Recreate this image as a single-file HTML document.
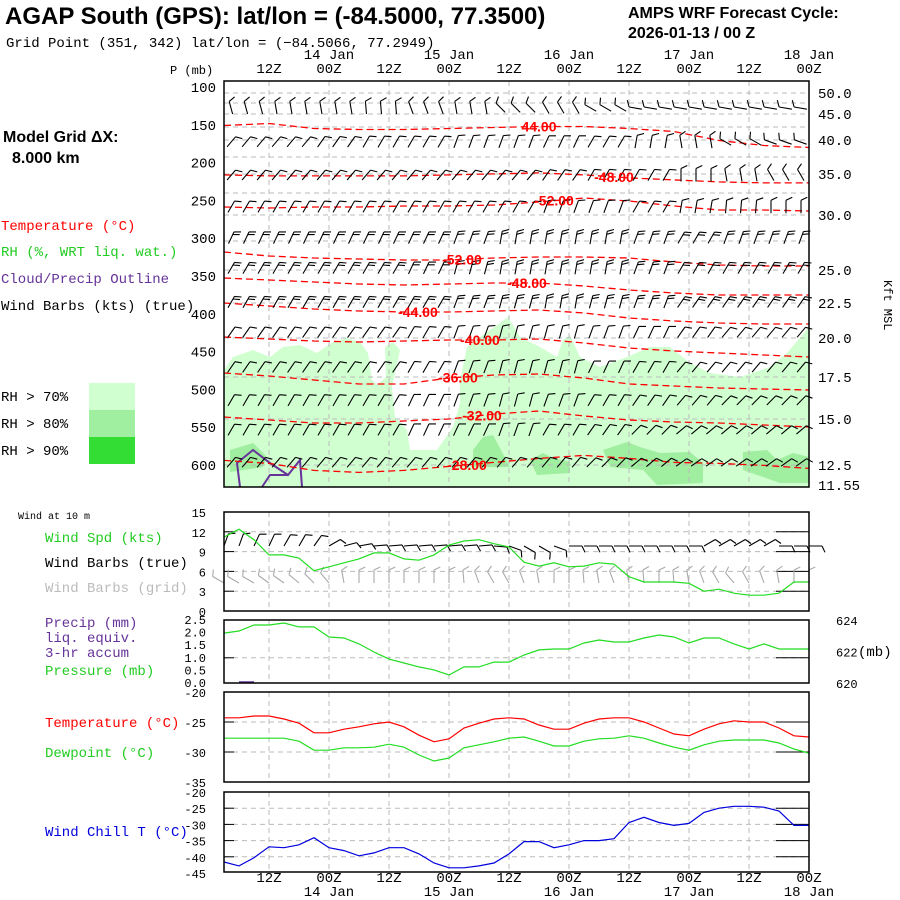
<!DOCTYPE html>
<html><head><meta charset="utf-8"><title>AMPS Meteogram</title>
<style>
html,body{margin:0;padding:0;background:#fff;}
svg{display:block;}
text{font-family:"Liberation Mono","DejaVu Sans Mono",monospace;}
.sans{font-family:"Liberation Sans",sans-serif;}
</style></head>
<body>
<svg id="chart" xmlns="http://www.w3.org/2000/svg" width="900" height="900" viewBox="0 0 900 900">
<rect x="0" y="0" width="900" height="900" fill="#fff"/>
<text class="sans" x="5" y="24" font-size="24" font-weight="bold">AGAP South (GPS):  lat/lon = (-84.5000, 77.3500)</text>
<text x="6" y="47" font-size="14">Grid Point (351, 342) lat/lon = (−84.5066, 77.2949)</text>
<text class="sans" x="628" y="18" font-size="16" font-weight="bold">AMPS WRF Forecast Cycle:</text>
<text class="sans" x="628" y="38" font-size="16" font-weight="bold">2026-01-13 / 00  Z</text>
<text class="sans" x="3" y="142" font-size="16" font-weight="bold">Model Grid ΔX:</text>
<text class="sans" x="12" y="163" font-size="16" font-weight="bold">8.000 km</text>
<text x="1" y="230" font-size="14" fill="#ff0000">Temperature (°C)</text>
<text x="1" y="256" font-size="14" fill="#22cc22">RH (%, WRT liq. wat.)</text>
<text x="1" y="283" font-size="14" fill="#663399">Cloud/Precip Outline</text>
<text x="1" y="310" font-size="14" fill="#000">Wind Barbs (kts) (true)</text>
<text x="1" y="401" font-size="14">RH &gt; 70%</text>
<text x="1" y="428" font-size="14">RH &gt; 80%</text>
<text x="1" y="455" font-size="14">RH &gt; 90%</text>
<rect x="89" y="383" width="46" height="27" fill="#d0ffd0"/>
<rect x="89" y="410" width="46" height="27" fill="#a0eea0"/>
<rect x="89" y="437" width="46" height="27" fill="#33dd33"/>
<text x="170" y="74" font-size="12">P (mb)</text>
<text x="884" y="280" font-size="12" transform="rotate(90 884 280)">Kft MSL</text>
<text x="18" y="519" font-size="10">Wind at 10 m</text>
<text x="45" y="542" font-size="14" fill="#22cc22">Wind Spd (kts)</text>
<text x="45" y="567" font-size="14" fill="#000">Wind Barbs (true)</text>
<text x="45" y="592" font-size="14" fill="#bbbbbb">Wind Barbs (grid)</text>
<text x="45" y="627" font-size="14" fill="#663399">Precip (mm)</text>
<text x="45" y="642" font-size="14" fill="#663399">liq. equiv.</text>
<text x="45" y="657" font-size="14" fill="#663399">3-hr accum</text>
<text x="45" y="675" font-size="14" fill="#22cc22">Pressure (mb)</text>
<text x="858" y="656" font-size="14">(mb)</text>
<text x="45" y="727" font-size="14" fill="#ff0000">Temperature (°C)</text>
<text x="45" y="757" font-size="14" fill="#22cc22">Dewpoint (°C)</text>
<text x="45" y="836" font-size="14" fill="#0000dd">Wind Chill T (°C)</text>
<g id="layer"></g>
</svg>
<script>
// ---------- data ----------
const timeLabels = ["12Z","00Z","12Z","00Z","12Z","00Z","12Z","00Z","12Z","00Z"];
const dateLabels = ["14 Jan","15 Jan","16 Jan","17 Jan","18 Jan"];
const pressureTicks = [100,150,200,250,300,350,400,450,500,550,600];
const heightLabels = ["50.0","45.0","40.0","35.0","30.0","25.0","22.5","20.0","17.5","15.0","12.5","11.55"];
const heightLabelY = [93,114,140,174,215,270,303,338,377,419,465,485];
const windSpd = [11.2,12.4,10.8,8.5,8.5,8.0,6.1,6.7,7.3,7.9,8.8,8.8,7.9,7.7,8.5,10.0,10.6,10.8,10.2,9.7,7.4,6.8,7.3,6.7,6.8,7.3,7.1,5.2,4.4,4.4,4.4,4.2,3.0,3.3,2.7,2.4,2.4,2.7,4.4,4.4];
const windDirTrue = [20,20,25,25,30,30,35,60,75,80,85,85,85,85,85,85,85,85,95,110,120,120,110,90,90,90,90,90,90,90,90,90,60,60,60,60,60,90,90,90];
const windDirGrid = [-60,-60,-60,-55,-55,-50,-45,-40,-10,0,0,0,0,0,0,0,-5,-20,-30,-30,-20,-10,0,0,-5,-10,-20,-10,-5,0,-5,-10,-20,-30,-40,-30,-20,-10,0,0];
const precip = [0,0.03,0,0,0,0,0,0,0,0,0,0,0,0,0,0,0,0,0,0,0,0,0,0,0,0,0,0,0,0,0,0,0,0,0,0,0,0,0,0];
const sfcPres = [623.17,623.30,623.68,623.68,623.81,623.56,623.56,622.92,622.86,622.48,621.97,621.52,621.27,621.02,620.83,620.51,621.02,621.02,621.33,621.33,621.78,622.10,622.16,622.16,622.54,622.73,622.60,622.60,622.86,623.05,622.92,622.54,622.86,622.86,622.48,622.16,622.48,622.16,622.16,622.16];
const tempC = [-24.3,-24.3,-24.0,-24.0,-24.5,-25.2,-26.8,-26.8,-26.2,-25.8,-25.3,-25.0,-25.8,-27.2,-28.3,-27.8,-26.0,-25.2,-24.5,-24.3,-24.5,-25.5,-26.2,-26.2,-25.2,-24.5,-24.3,-24.3,-25.0,-26.0,-27.0,-27.3,-26.2,-25.3,-24.8,-25.0,-25.0,-26.0,-27.3,-27.5];
const dewC = [-27.7,-27.7,-27.7,-27.7,-27.7,-28.2,-29.7,-29.7,-29.3,-29.3,-29.2,-28.7,-29.2,-30.5,-31.5,-31.0,-29.3,-28.8,-28.3,-27.7,-27.5,-28.2,-29.0,-29.0,-28.2,-27.8,-27.7,-27.3,-27.7,-28.5,-29.2,-29.7,-28.8,-28.2,-28.0,-28.0,-28.0,-28.5,-29.5,-30.2];
const windChill = [-41.6,-42.8,-40.3,-36.9,-37.2,-36.3,-34.1,-37.2,-38.1,-39.7,-38.8,-37.2,-37.2,-39.1,-41.9,-43.4,-43.4,-42.8,-41.9,-39.1,-35.3,-35.3,-37.2,-36.3,-35.0,-35.0,-34.4,-29.4,-27.8,-29.4,-30.3,-29.7,-26.3,-25.0,-24.4,-24.4,-24.7,-25.9,-30.3,-30.3];
// upper-air isotherm contours: pressure (mb) at 14 nodes (every 9 h)
const contourLabels = ["44.00","-48.00","-52.00","-52.00","-48.00","-44.00","-40.00","-36.00","-32.00","-28.00"];
const contourLabelHour = [63,78,66,47.6,60.6,38.8,51.2,46.8,51.6,48.6];
const c0 = [150.9,148.3,154.9,156.2,156.2,154.9,153.6,152.2,152.2,154.9,158.9,170.8,177.4,180.0];
const c1 = [216.3,217.6,217.6,217.6,217.6,216.3,215.0,213.6,216.3,220.2,222.9,225.5,226.9,226.9];
const c2 = [258.7,260.1,258.7,258.7,257.4,257.4,256.1,252.1,246.8,250.8,257.4,262.7,262.7,264.0];
const c3 = [318.2,323.5,326.2,327.5,328.8,328.8,326.2,324.9,324.9,326.2,331.5,335.4,336.8,336.8];
const c4 = [352.6,355.3,357.9,360.6,361.9,360.6,359.3,359.3,363.2,368.5,372.5,375.1,375.1,375.1];
const c5 = [385.7,389.7,393.7,396.3,397.6,397.6,396.3,395.0,399.0,405.6,409.5,412.2,413.5,413.5];
const c6 = [430.7,433.3,436.0,437.3,436.0,434.7,434.7,433.3,438.6,445.2,449.2,451.9,454.5,457.1];
const c7 = [478.3,482.3,487.6,492.9,492.9,484.9,480.9,479.6,484.9,492.9,495.5,498.1,499.5,500.8];
const c8 = [536.5,540.5,544.4,544.4,541.8,539.2,532.5,528.6,535.2,540.5,543.1,544.4,547.1,549.7];
const c9 = [593.9,597.9,607.1,609.8,607.1,601.8,596.6,591.3,587.3,591.3,596.6,597.9,600.5,604.5];
// wind barb directions for 12 pressure levels (each value covers 3 barbs)
const barbLevels = [128,173,217,259,300,340,385,425,471,515,554,597];
const barbFeathers = [1,1,1,1,2,2,2,1,1,1,1,1];
const b0 = [-15,-10,-10,-5,-20,-10,-45,-30,-60,-80,-80,-80,-80];
const b1 = [40,40,35,30,30,20,20,25,30,10,-10,-60,-70];
const b2 = [40,40,40,40,40,40,40,35,30,30,0,-10,-30];
const b3 = [30,30,30,30,30,30,30,20,20,30,10,5,0];
const b4 = [25,25,25,25,25,20,10,10,10,20,30,20,20];
const b5 = [30,30,30,30,25,15,10,10,10,20,30,30,30];
const b6 = [30,30,30,30,30,20,15,10,15,20,35,35,35];
const b7 = [35,35,35,35,30,20,15,15,20,25,35,40,40];
const b8 = [35,35,35,35,30,20,15,15,25,30,40,40,40];
const b9 = [30,30,30,30,25,20,15,20,30,35,40,45,45];
const b10 = [30,30,30,30,25,25,20,30,35,45,50,50,50];
const b11 = [40,40,40,40,40,40,40,40,45,50,55,55,55];

// ---------- scales ----------
const X0 = 224, X1 = 809, HOURS = 117;
const xH = h => X0 + (X1 - X0) * h / HOURS;
const xI = i => xH(i * 3);
const yP = p => 87 + (p - 100) * 0.756;
const yW = v => 611 - v * 6.6;
const yPr = mm => 683 - mm * 25.2;
const yPs = mb => 683 - (mb - 620) * 15.75;
const yT = t => 692 + (-20 - t) * 6;
const yC = t => 792 + (-20 - t) * 3.24;
const NS = "http://www.w3.org/2000/svg";
const layer = document.getElementById("layer");
function el(tag, attrs, parent) {
  const e = document.createElementNS(NS, tag);
  for (const k in attrs) e.setAttribute(k, attrs[k]);
  (parent || layer).appendChild(e);
  return e;
}
const panels = [[81,487],[512,611],[620,683],[692,782],[792,872]];
const gridC = "#bbbbbb";

// ---------- RH shading ----------
const rhLight = [[224,370],[233,357],[253,350],[270,357],[283,347],[300,345],[317,353],[333,342],[347,338],[360,342],[368,353],[372,380],[377,385],[386,377],[385,347],[393,342],[400,350],[392,387],[395,417],[407,430],[410,450],[437,450],[453,427],[460,403],[460,380],[467,347],[480,337],[500,323],[508,317],[520,337],[540,347],[557,357],[563,340],[570,335],[580,357],[600,367],[627,357],[650,347],[670,347],[690,363],[710,373],[740,377],[770,367],[787,353],[809,327],[809,487],[224,487]];
let rh = el("polygon",{points:rhLight.map(p=>p.join(",")).join(" "),fill:"#d0ffd0"});


const rhDark = [
 [[230,450],[253,443],[267,457],[263,467],[230,472]],
 [[473,450],[483,437],[493,435],[510,467],[473,467]],
 [[530,460],[543,453],[553,458],[570,462],[570,473],[537,475]],
 [[603,450],[627,442],[640,447],[660,453],[690,452],[703,463],[703,483],[657,485],[643,470],[610,467]],
 [[743,452],[767,450],[777,460],[793,453],[809,457],[809,483],[780,483],[743,470]]];
rhDark.forEach(b=>{
  const d = el("polygon",{points:b.map(p=>p.join(",")).join(" "),fill:"#a0eea0"});
  
  
});

// ---------- gridlines ----------
for (let k=0;k<9;k++){
  const x = xH(9 + 12*k);
  panels.forEach(pn=>{
    const g = el("line",{x1:x,y1:pn[0],x2:x,y2:pn[1],stroke:gridC,"stroke-dasharray":"5,4"});
    
    
  });
}
const hgY = [93,103,114,127,140,157,174,193,215,241,270,303,338,377,419,465];
hgY.forEach(y=>{
  const g = el("line",{x1:X0,y1:y,x2:X1,y2:y,stroke:gridC,"stroke-dasharray":"5,4"});
  
  
});
function hTicks(vals, yf, gname, tname){
  vals.forEach(v=>{
    const g = el("line",{x1:X0,y1:yf(v),x2:X1,y2:yf(v),stroke:gridC,"stroke-dasharray":"5,4"});
    
    
    const t = el("line",{x1:X0,y1:yf(v),x2:X0+10,y2:yf(v),stroke:"#000"});
    
    
    const t2 = el("line",{x1:X1-33,y1:yf(v),x2:X1,y2:yf(v),stroke:"#000"});
    
    
  });
}
hTicks([3,6,9,12], yW, 'wind-gridline', 'wind-tick');
hTicks([1.0], yPr, 'precip-gridline', 'precip-tick');
hTicks([-25,-30], yT, 'temp-gridline', 'temp-tick');
hTicks([-25,-30,-35,-40], yC, 'windchill-gridline', 'windchill-tick');

// ---------- cloud outline ----------
let cl = el("polyline",{points:"240,487 237,463 253,450 270,463 288,475 300,460 302,487",fill:"none",stroke:"#663399","stroke-width":2});


let cl2 = el("polyline",{points:"262,487 270,475 288,475",fill:"none",stroke:"#663399","stroke-width":2});



// ---------- isotherm contours ----------
const contours = [c0,c1,c2,c3,c4,c5,c6,c7,c8,c9];
contours.forEach((c,ci)=>{
  const pts = c.map((p,k)=>xH(k*9)+","+yP(p).toFixed(1)).join(" ");
  const l = el("polyline",{points:pts,fill:"none",stroke:"#ff0000","stroke-width":1.3,"stroke-dasharray":"7,4"});
  
  
});

// ---------- wind barbs ----------
function barb(x,y,dir,n,color,L,name){
  const r = dir*Math.PI/180;
  const tx = x + L*Math.sin(r), ty = y - L*Math.cos(r);
  let d = `M${x.toFixed(1)},${y.toFixed(1)}L${tx.toFixed(1)},${ty.toFixed(1)}`;
  const fr = (dir+65)*Math.PI/180;
  for (let f=0; f<n; f++){
    const sx = tx - 3*f*Math.sin(r), sy = ty + 3*f*Math.cos(r);
    d += `M${sx.toFixed(1)},${sy.toFixed(1)}l${(7*Math.sin(fr)).toFixed(1)},${(-7*Math.cos(fr)).toFixed(1)}`;
  }
  const p = el("path",{d:d,fill:"none",stroke:color,"stroke-width":1.1});
  
  
}
const barbRows = [b0,b1,b2,b3,b4,b5,b6,b7,b8,b9,b10,b11];
barbRows.forEach((row,ri)=>{
  const yc = yP(barbLevels[ri]);
  for (let k=0;k<39;k++){
    const dir = row[Math.floor(k/3)];
    const r = dir*Math.PI/180;
    const x = 231 + 15*k - 6*Math.sin(r);
    const y = yc + 6*Math.cos(r);
    barb(x,y,dir,barbFeathers[ri],"#000",13,"upper-wind-barb");
  }
});
for (let i=0;i<40;i++){
  barb(xI(i),546,windDirTrue[i],1,"#000",13,"wind-barb-true");
  barb(xI(i),583,windDirGrid[i],1,"#aaaaaa",13,"wind-barb-grid");
}

contourLabels.forEach((t,ci)=>{
  const h = contourLabelHour[ci];
  const c = contours[ci];
  const k = Math.min(12, Math.floor(h/9)), f = h/9 - k;
  const p = c[k] + (c[k+1]-c[k])*f;
  const tx = el("text",{x:xH(h),y:yP(p)+5,"font-size":14,"font-weight":"bold",fill:"#ff0000","text-anchor":"middle",class:"sans"});
  tx.textContent = t;
  
  
});

// ---------- series lines ----------
function series(arr, yf, color, name){
  const pts = arr.map((v,i)=>xI(i).toFixed(1)+","+yf(v).toFixed(1)).join(" ");
  const l = el("polyline",{points:pts,fill:"none",stroke:color,"stroke-width":1.2});
  
  
}
series(windSpd, yW, "#22dd22", "wind-speed-line");
series(sfcPres, yPs, "#22dd22", "pressure-line");
series(tempC, yT, "#ff0000", "temperature-line");
series(dewC, yT, "#22dd22", "dewpoint-line");
series(windChill, yC, "#0000dd", "wind-chill-line");
precip.forEach((v,i)=>{
  if (v<=0) return;
  const r = el("rect",{x:xI(i),y:yPr(v)-1,width:15,height:Math.max(2,683-yPr(v)),fill:"#663399"});
  
  
});

// ---------- frames ----------
panels.forEach(pn=>{
  const r = el("rect",{x:X0,y:pn[0],width:X1-X0,height:pn[1]-pn[0],fill:"none",stroke:"#000","stroke-width":1.5});
  
  
});

// ---------- axis labels ----------
function txt(x,y,s,anchor,size,name,color){
  const t = el("text",{x:x,y:y,"font-size":size,"text-anchor":anchor,fill:color||"#000"});
  t.textContent = s;
  
  
}
pressureTicks.forEach(p=>txt(216,yP(p)+5,String(p),"end",14,"pressure-tick-label"));
heightLabels.forEach((s,i)=>txt(818,heightLabelY[i]+5,s,"start",14,"height-tick-label"));
[15,12,9,6,3,0].forEach(v=>txt(206,yW(v)+5,String(v),"end",12,"wind-tick-label"));
[2.5,2.0,1.5,1.0,0.5,0.0].forEach(v=>txt(206,yPr(v)+4,v.toFixed(1),"end",12,"precip-tick-label"));
[624,622,620].forEach(v=>txt(836,yPs(v)+5,String(v),"start",12,"pressure-right-label"));
[-20,-25,-30,-35].forEach(v=>txt(206,yT(v)+5,String(v),"end",12,"temp-tick-label"));
[-20,-25,-30,-35,-40,-45].forEach(v=>txt(206,yC(v)+5,String(v),"end",12,"windchill-tick-label"));
timeLabels.forEach((s,k)=>{
  txt(xH(9+12*k),73,s,"middle",14,"top-time-label");
  txt(xH(9+12*k),882,s,"middle",14,"bottom-time-label");
});
dateLabels.forEach((s,k)=>{
  txt(xH(21+24*k),59,s,"middle",14,"top-date-label");
  txt(xH(21+24*k),896,s,"middle",14,"bottom-date-label");
});
</script>
</body></html>
